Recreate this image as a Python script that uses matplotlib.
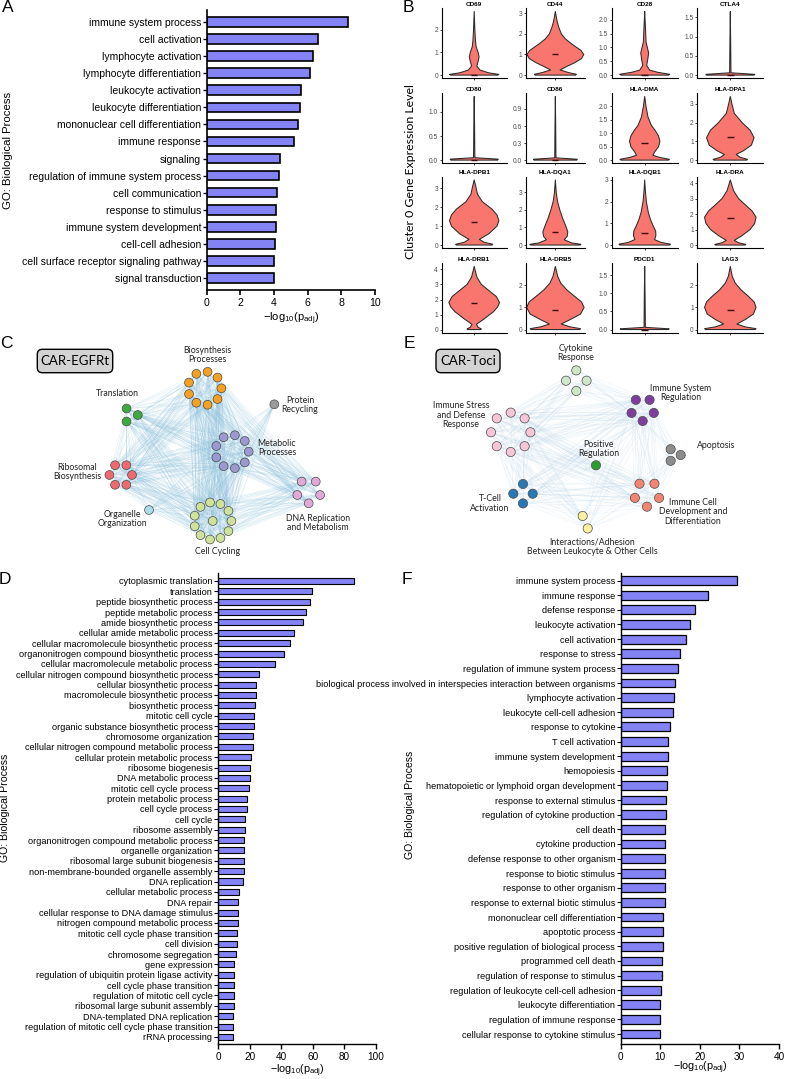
import numpy as np
import matplotlib
matplotlib.use('Agg')
import matplotlib.pyplot as plt
from matplotlib.collections import LineCollection
from matplotlib.patches import Circle, FancyBboxPatch, Polygon

plt.rcParams['font.family'] = ['Liberation Sans', 'DejaVu Sans']
plt.rcParams['mathtext.fontset'] = 'custom'
plt.rcParams['mathtext.rm'] = 'Liberation Sans'
plt.rcParams['mathtext.it'] = 'Liberation Sans:italic'

W, H = 785, 1079
BAR = '#8383F5'
VLN = '#F8766D'
XLABEL = '\u2212log$_{10}$(p$_{\\mathrm{adj}}$)'

# ---------------- data ----------------
# A: GO terms (cluster 0)
a_terms = ['immune system process', 'cell activation', 'lymphocyte activation',
           'lymphocyte differentiation', 'leukocyte activation', 'leukocyte differentiation',
           'mononuclear cell differentiation', 'immune response', 'signaling',
           'regulation of immune system process', 'cell communication', 'response to stimulus',
           'immune system development', 'cell-cell adhesion',
           'cell surface receptor signaling pathway', 'signal transduction']
a_values = [8.4, 6.6, 6.3, 6.15, 5.6, 5.55, 5.4, 5.2, 4.35, 4.3, 4.17, 4.14, 4.13, 4.04, 3.98, 3.98]

# B: violins (outline knots: y, half width as fraction)
b_genes = ['CD69', 'CD44', 'CD28', 'CTLA4',
           'CD80', 'CD86', 'HLA-DMA', 'HLA-DPA1',
           'HLA-DPB1', 'HLA-DQA1', 'HLA-DQB1', 'HLA-DRA',
           'HLA-DRB1', 'HLA-DRB5', 'PDCD1', 'LAG3']
b_ymax = [2.8, 3.08, 2.3, 1.65, 1.32, 1.12, 2.37, 3.4, 3.45, 3.7, 3.0, 4.2, 4.2, 2.85, 1.74, 2.85]
b_median = [0, 1.0, 0, 0, 0, 0, 0.65, 1.22, 1.2, 0.75, 0.55, 1.75, 1.75, 0.9, 0, 0.9]
b_tick_step = [1, 1, 0.5, 0.5, 0.5, 0.3, 0.5, 1, 1, 1, 1, 1, 1, 1, 0.5, 1]
b_shape_y = [
    [0, 0.03, 0.1, 0.22, 0.4, 0.6, 0.8, 1.0, 1.25, 1.5, 2.0, 2.8],
    [0, 0.04, 0.12, 0.25, 0.4, 0.6, 0.8, 1.0, 1.2, 1.5, 1.75, 2.0, 2.3, 2.6, 3.08],
    [0, 0.03, 0.1, 0.18, 0.35, 0.55, 0.8, 1.0, 1.2, 1.5, 1.9, 2.3],
    [0, 0.02, 0.06, 0.8, 1.65],
    [0, 0.02, 0.05, 0.7, 1.32],
    [0, 0.015, 0.04, 0.6, 1.12],
    [0, 0.03, 0.1, 0.18, 0.3, 0.5, 0.7, 0.9, 1.1, 1.3, 1.6, 2.0, 2.37],
    [0, 0.04, 0.15, 0.3, 0.5, 0.8, 1.2, 1.6, 2.0, 2.5, 3.0, 3.4],
    [0, 0.04, 0.15, 0.3, 0.6, 1.0, 1.3, 1.6, 1.9, 2.3, 2.7, 3.1, 3.45],
    [0, 0.04, 0.12, 0.3, 0.5, 0.75, 1.0, 1.5, 2.0, 2.5, 3.0, 3.7],
    [0, 0.04, 0.12, 0.25, 0.45, 0.65, 0.9, 1.2, 1.5, 2.0, 2.5, 3.0],
    [0, 0.04, 0.15, 0.3, 0.6, 1.0, 1.4, 1.8, 2.2, 2.6, 3.0, 3.5, 4.2],
    [0, 0.04, 0.15, 0.35, 0.7, 1.2, 1.5, 1.8, 2.2, 2.6, 3.0, 3.5, 4.2],
    [0, 0.04, 0.12, 0.25, 0.45, 0.7, 1.0, 1.25, 1.5, 1.8, 2.1, 2.4, 2.85],
    [0, 0.02, 0.06, 0.9, 1.74],
    [0, 0.04, 0.12, 0.25, 0.45, 0.7, 1.0, 1.25, 1.5, 1.8, 2.1, 2.4, 2.85],
]
b_shape_w = [
    [0.72, 0.76, 0.45, 0.18, 0.08, 0.12, 0.15, 0.12, 0.06, 0.04, 0.02, 0.0],
    [0.68, 0.71, 0.45, 0.16, 0.36, 0.65, 0.88, 0.96, 0.86, 0.56, 0.34, 0.2, 0.12, 0.06, 0.0],
    [0.72, 0.76, 0.4, 0.15, 0.06, 0.09, 0.12, 0.08, 0.04, 0.03, 0.015, 0.0],
    [0.72, 0.74, 0.02, 0.012, 0.0],
    [0.72, 0.74, 0.02, 0.012, 0.0],
    [0.72, 0.74, 0.02, 0.012, 0.0],
    [0.72, 0.75, 0.45, 0.25, 0.3, 0.42, 0.46, 0.42, 0.32, 0.2, 0.1, 0.04, 0.0],
    [0.5, 0.52, 0.3, 0.18, 0.4, 0.64, 0.72, 0.6, 0.36, 0.12, 0.05, 0.0],
    [0.55, 0.57, 0.3, 0.16, 0.45, 0.7, 0.76, 0.7, 0.55, 0.25, 0.1, 0.05, 0.0],
    [0.84, 0.86, 0.55, 0.3, 0.4, 0.42, 0.37, 0.25, 0.15, 0.07, 0.03, 0.0],
    [0.76, 0.78, 0.5, 0.3, 0.34, 0.33, 0.25, 0.17, 0.11, 0.05, 0.02, 0.0],
    [0.45, 0.47, 0.25, 0.12, 0.35, 0.6, 0.74, 0.78, 0.66, 0.45, 0.25, 0.1, 0.0],
    [0.2, 0.22, 0.12, 0.07, 0.3, 0.6, 0.72, 0.78, 0.68, 0.45, 0.22, 0.08, 0.0],
    [0.82, 0.85, 0.5, 0.2, 0.5, 0.85, 0.97, 0.88, 0.65, 0.38, 0.18, 0.08, 0.0],
    [0.72, 0.74, 0.02, 0.012, 0.0],
    [0.75, 0.78, 0.45, 0.2, 0.45, 0.7, 0.78, 0.72, 0.55, 0.32, 0.15, 0.06, 0.0],
]

# C: CAR-EGFRt network
c_names = ['Biosynthesis\nProcesses', 'Translation', 'Protein\nRecycling', 'Metabolic\nProcesses',
           'Ribosomal\nBiosynthesis', 'Organelle\nOrganization', 'Cell Cycling',
           'DNA Replication\nand Metabolism']
c_sizes = [9, 3, 1, 9, 6, 1, 12, 5]
c_links = [(0, 1), (0, 3), (1, 3), (1, 4), (3, 4), (0, 4), (3, 6), (3, 7), (0, 6), (4, 5),
           (5, 6), (2, 3), (2, 6), (6, 7), (0, 7), (1, 7), (4, 6), (5, 3), (1, 6)]

# D: GO terms CAR-EGFRt
d_terms = ['cytoplasmic translation', 'translation', 'peptide biosynthetic process',
           'peptide metabolic process', 'amide biosynthetic process',
           'cellular amide metabolic process', 'cellular macromolecule biosynthetic process',
           'organonitrogen compound biosynthetic process',
           'cellular macromolecule metabolic process',
           'cellular nitrogen compound biosynthetic process', 'cellular biosynthetic process',
           'macromolecule biosynthetic process', 'biosynthetic process', 'mitotic cell cycle',
           'organic substance biosynthetic process', 'chromosome organization',
           'cellular nitrogen compound metabolic process', 'cellular protein metabolic process',
           'ribosome biogenesis', 'DNA metabolic process', 'mitotic cell cycle process',
           'protein metabolic process', 'cell cycle process', 'cell cycle', 'ribosome assembly',
           'organonitrogen compound metabolic process', 'organelle organization',
           'ribosomal large subunit biogenesis', 'non-membrane-bounded organelle assembly',
           'DNA replication', 'cellular metabolic process', 'DNA repair',
           'cellular response to DNA damage stimulus', 'nitrogen compound metabolic process',
           'mitotic cell cycle phase transition', 'cell division', 'chromosome segregation',
           'gene expression', 'regulation of ubiquitin protein ligase activity',
           'cell cycle phase transition', 'regulation of mitotic cell cycle',
           'ribosomal large subunit assembly', 'DNA-templated DNA replication',
           'regulation of mitotic cell cycle phase transition', 'rRNA processing']
d_values = [86.3, 59.4, 58.4, 56.0, 53.9, 48.4, 45.7, 41.9, 35.9, 25.8, 24.3, 23.9, 23.3,
            22.8, 22.8, 22.2, 22.0, 21.1, 20.3, 20.1, 19.7, 18.6, 18.4, 17.3, 16.9, 16.7,
            16.5, 16.5, 16.3, 16.1, 13.3, 12.9, 12.9, 12.5, 12.1, 11.8, 11.6, 10.4, 10.4,
            10.1, 10.1, 9.9, 9.7, 9.5, 9.5]

# E: CAR-Toci network
e_names = ['Cytokine\nResponse', 'Immune System\nRegulation',
           'Immune Stress\nand Defense\nResponse', 'Positive\nRegulation', 'Apoptosis',
           'T-Cell\nActivation', 'Immune Cell\nDevelopment and\nDifferentiation',
           'Interactions/Adhesion\nBetween Leukocyte & Other Cells']
e_sizes = [4, 5, 8, 1, 3, 4, 5, 2]
e_links = [(0, 1), (0, 2), (1, 2), (2, 5), (2, 6), (1, 6), (1, 5), (1, 3), (1, 4), (5, 6),
           (5, 7), (3, 5), (3, 7), (6, 7), (1, 7), (2, 3), (4, 6), (2, 7)]

# F: GO terms CAR-Toci
f_terms = ['immune system process', 'immune response', 'defense response',
           'leukocyte activation', 'cell activation', 'response to stress',
           'regulation of immune system process',
           'biological process involved in interspecies interaction between organisms',
           'lymphocyte activation', 'leukocyte cell-cell adhesion', 'response to cytokine',
           'T cell activation', 'immune system development', 'hemopoiesis',
           'hematopoietic or lymphoid organ development', 'response to external stimulus',
           'regulation of cytokine production', 'cell death', 'cytokine production',
           'defense response to other organism', 'response to biotic stimulus',
           'response to other organism', 'response to external biotic stimulus',
           'mononuclear cell differentiation', 'apoptotic process',
           'positive regulation of biological process', 'programmed cell death',
           'regulation of response to stimulus', 'regulation of leukocyte cell-cell adhesion',
           'leukocyte differentiation', 'regulation of immune response',
           'cellular response to cytokine stimulus']
f_values = [29.4, 22.1, 18.8, 17.4, 16.6, 15.0, 14.5, 13.8, 13.4, 13.3, 12.4, 12.0, 11.9,
            11.6, 11.6, 11.5, 11.4, 11.3, 11.3, 11.3, 11.2, 11.2, 11.2, 10.8, 10.6, 10.6,
            10.5, 10.5, 10.2, 10.0, 10.0, 9.9]


def axes_px(fig, left, top, right, bottom):
    return fig.add_axes([left / W, 1 - bottom / H, (right - left) / W, (bottom - top) / H])


def fig_text(fig, x, y, s, **kw):
    return fig.text(x / W, 1 - y / H, s, **kw)


def go_barplot(ax, terms, values, xmax, xstep, ylim, bar_h, label_fs, tick_fs, edge_lw, spine_lw):
    y = np.arange(len(terms))
    ax.barh(y, values, height=bar_h, color=BAR, edgecolor='black', linewidth=edge_lw)
    ax.set_yticks(y)
    ax.set_yticklabels(terms, fontsize=label_fs)
    ax.set_ylim(*ylim)
    ax.set_xlim(0, xmax)
    ax.set_xticks(np.arange(0, xmax + 1e-9, xstep))
    ax.tick_params(axis='x', labelsize=tick_fs, length=3.5, width=spine_lw, pad=2)
    ax.tick_params(axis='y', length=3, width=spine_lw * 0.8, pad=1)
    for s in ['top', 'right']:
        ax.spines[s].set_visible(False)
    for s in ['left', 'bottom']:
        ax.spines[s].set_linewidth(spine_lw)
    ax.patch.set_alpha(0)


def draw_violin(ax, ys, ws, ymax, med, step, title):
    ys = np.asarray(ys, dtype=float)
    ws = np.asarray(ws, dtype=float)
    verts = np.column_stack([np.concatenate([-ws, ws[::-1]]), np.concatenate([ys, ys[::-1]])])
    ax.add_patch(Polygon(verts, closed=True, facecolor=VLN, edgecolor='#2b2b2b', lw=0.75,
                         joinstyle='round'))
    ax.plot([-0.1, 0.1], [med, med], color='#3d0a0a', lw=1.0, solid_capstyle='butt')
    ax.set_xlim(-1, 1)
    ax.set_ylim(-0.05 * ymax, 1.05 * ymax)
    ticks = np.arange(0, ymax * 1.05 + 1e-9, step)
    fmt = '{:.0f}' if step >= 1 else '{:.1f}'
    ax.set_yticks(ticks)
    ax.set_yticklabels([fmt.format(t) for t in ticks])
    ax.set_xticks([0])
    ax.set_xticklabels([''])
    ax.tick_params(labelsize=4.8, labelcolor='#4D4D4D', length=1.6, width=0.5, pad=1)
    for s in ['top', 'right']:
        ax.spines[s].set_visible(False)
    for s in ['left', 'bottom']:
        ax.spines[s].set_linewidth(0.8)
    ax.set_title(title, fontsize=4.6, fontweight='bold', pad=2)


def ring(cx, cy, r, n, start, center=False):
    pts = []
    if center:
        pts.append((cx, cy))
        n -= 1
    for k in range(n):
        a = np.deg2rad(start + 360.0 * k / n)
        pts.append((cx + r * np.cos(a), cy - r * np.sin(a)))
    return pts


def draw_network(ax, sizes, links, layout, colors, edge_color, edge_alpha, node_r):
    nodes = []
    for n, (cx, cy, r, start, center) in zip(sizes, layout):
        nodes.append(ring(cx, cy, r if n > 1 else 0, n, start, center))
    segs = []
    for pts in nodes:
        for i in range(len(pts)):
            for j in range(i + 1, len(pts)):
                segs.append([pts[i], pts[j]])
    for a, b in links:
        for p in nodes[a]:
            for q in nodes[b]:
                segs.append([p, q])
    ax.add_collection(LineCollection(segs, colors=edge_color, linewidths=0.3, alpha=edge_alpha,
                                     zorder=1))
    for pts, col in zip(nodes, colors):
        for (x, y) in pts:
            ax.add_patch(Circle((x, y), node_r, facecolor=col, edgecolor='#4d4d4d', lw=0.5,
                                zorder=3))


fig = plt.figure(figsize=(W / 100, H / 100), dpi=100)

# ---------------- panel A ----------------
ax_a = axes_px(fig, 206.7, 10, 375, 290)
go_barplot(ax_a, a_terms, a_values, 10, 2, (15.7, -0.7), 0.56, 7.5, 7.6, 1.2, 1.2)
fig_text(fig, 291, 319, XLABEL, fontsize=8, ha='center', va='center')
fig_text(fig, 8, 150, 'GO: Biological Process', fontsize=8.2, rotation=90, ha='center', va='center')

# ---------------- panel B ----------------
b_cols = [(441.7, 506.7), (525.7, 585.0), (611.7, 677.7), (697.3, 763.3)]
b_rows = [(8.3, 78.3), (93.3, 163.3), (176.7, 248.3), (263.3, 332.7)]
for i, gene in enumerate(b_genes):
    (l, r), (t, b) = b_cols[i % 4], b_rows[i // 4]
    ax = axes_px(fig, l, t, r, b)
    draw_violin(ax, b_shape_y[i], b_shape_w[i], b_ymax[i], b_median[i], b_tick_step[i], gene)
fig_text(fig, 411, 172, 'Cluster 0 Gene Expression Level', fontsize=8.9, family='Lato',
         rotation=90, ha='center', va='center')

# ---------------- panels C and E (networks) ----------------
ax_n = axes_px(fig, 0, 325, W, 565)
ax_n.set_xlim(0, W)
ax_n.set_ylim(565, 325)
ax_n.axis('off')

c_layout = [(204.7, 388.3, 16.7, 0, False), (130.3, 415.0, 7.5, 0, False),
            (274.3, 404.3, 0, 0, False), (232.0, 451.7, 16.7, 0, False),
            (120.7, 475.0, 11.3, 0, False), (149.0, 510.0, 0, 0, False),
            (212.7, 521.0, 18.7, 0, True), (308.7, 491.3, 12.0, -90, False)]
c_colors = ['#F5A020', '#3CAA3C', '#9A9A9A', '#9C99D0', '#EE6A6E', '#AADCE8', '#CFE29A',
            '#E2A8D8']
draw_network(ax_n, c_sizes, c_links, c_layout, c_colors, '#8EC3DE', 0.3, 4.4)
c_label_pos = [(207, 355, 'center'), (117, 394, 'center'), (300, 405, 'center'),
               (277, 448, 'center'), (77.5, 472, 'center'), (122.7, 519, 'center'),
               (217.3, 551.7, 'center'), (318.3, 523, 'center')]
for name, (x, y, ha) in zip(c_names, c_label_pos):
    ax_n.text(x, y, name, fontsize=6.3, family='Lato', ha=ha, va='center', linespacing=1.1,
              color='#222222', zorder=4)

e_layout = [(576.3, 380.7, 10.3, 90, False), (642.7, 409.3, 11.7, -90, False),
            (510.7, 432.3, 19.7, 0, False), (596.0, 465.3, 0, 0, False),
            (674.0, 455.0, 6.7, 0, False), (523.0, 493.7, 9.7, 90, False),
            (647.0, 494.0, 12.7, -90, False), (585.2, 522.2, 6.7, 112, False)]
e_colors = ['#CFE6C8', '#7E3F9C', '#F6C6D8', '#2CA02C', '#8C8C8C', '#2878B5', '#F28470',
            '#FAF0A0']
draw_network(ax_n, e_sizes, e_links, e_layout, e_colors, '#B5D4EA', 0.3, 4.6)
e_label_pos = [(576, 353, 'center'), (681, 393, 'center'), (461, 415, 'center'),
               (599, 449, 'center'), (697, 445, 'left'), (490, 503.5, 'center'),
               (693, 512, 'center'), (592, 547, 'center')]
for name, (x, y, ha) in zip(e_names, e_label_pos):
    ax_n.text(x, y, name, fontsize=6.3, family='Lato', ha=ha, va='center', linespacing=1.1,
              color='#222222', zorder=4)

for (x0, x1, label) in [(37.3, 112.7, 'CAR-EGFRt'), (436.0, 500.0, 'CAR-Toci')]:
    ax_n.add_patch(FancyBboxPatch((x0 + 4, 353.3), x1 - x0 - 8, 15.4,
                                  boxstyle='round,pad=4,rounding_size=5',
                                  facecolor='#D3D3D3', edgecolor='black', lw=1.0, zorder=4))
    ax_n.text((x0 + x1) / 2, 361, label, fontsize=9.5, family='Lato', ha='center',
              va='center', zorder=5)

# ---------------- panel D ----------------
ax_d = axes_px(fig, 218, 573.3, 376, 1044)
go_barplot(ax_d, d_terms, d_values, 100, 20, (44.68, -0.74), 0.58, 6.6, 7.2, 0.8, 1.0)
fig_text(fig, 297, 1071, XLABEL, fontsize=7.8, ha='center', va='center')
fig_text(fig, 5, 808, 'GO: Biological Process', fontsize=7.6, rotation=90, ha='center', va='center')

# ---------------- panel F ----------------
ax_f = axes_px(fig, 620.7, 573.3, 779, 1044)
go_barplot(ax_f, f_terms, f_values, 40, 10, (31.68, -0.5), 0.6, 6.6, 7.2, 0.9, 1.0)
fig_text(fig, 700, 1068, XLABEL, fontsize=7.8, ha='center', va='center')
fig_text(fig, 410, 805, 'GO: Biological Process', fontsize=7.6, rotation=90, ha='center', va='center')

# ---------------- panel letters ----------------
for letter, x, y in [('A', 7.5, 7.5), ('B', 408, 7.5), ('C', 6, 344), ('D', 5, 579),
                     ('E', 409, 344), ('F', 407, 579)]:
    fig_text(fig, x, y, letter, fontsize=12.5, ha='center', va='center')

fig.savefig('out.png', dpi=100)
